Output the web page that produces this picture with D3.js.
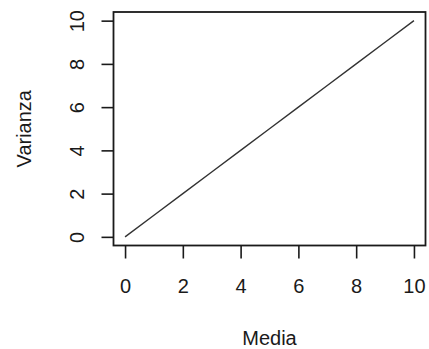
<!DOCTYPE html>
<html>
<head>
<meta charset="utf-8">
<script src="https://cdn.jsdelivr.net/npm/d3@7"></script>
<style>
  html, body { margin: 0; padding: 0; background: #fff; }
  svg { display: block; }
  text { font-family: "Liberation Sans", Arial, sans-serif; fill: #1a1a1a; }
</style>
</head>
<body>
<svg id="chart" width="429" height="349"></svg>
<script>
// Mean vs variance values
const media = [0, 1, 2, 3, 4, 5, 6, 7, 8, 9, 10];
const varianza = [0, 1, 2, 3, 4, 5, 6, 7, 8, 9, 10];
const xTicks = [0, 2, 4, 6, 8, 10];
const yTicks = [0, 2, 4, 6, 8, 10];
const xLabel = "Media";
const yLabel = "Varianza";

const svg = d3.select("#chart");
const box = { left: 113.5, right: 425.5, top: 12, bottom: 245.5 };

// 4% padding on each side of the data range
const pad = 0.04 * 10;
const x = d3.scaleLinear().domain([0 - pad, 10 + pad]).range([box.left, box.right]);
const y = d3.scaleLinear().domain([0 - pad, 10 + pad]).range([box.bottom, box.top]);

// x axis
const xAxis = svg.append("g")
  .attr("transform", `translate(0,${box.bottom})`)
  .call(d3.axisBottom(x).tickValues(xTicks).tickSize(13).tickPadding(20).tickFormat(d3.format("d")));
xAxis.select(".domain").remove();
xAxis.selectAll("line").attr("stroke", "#1a1a1a").attr("stroke-width", 1.6);
xAxis.selectAll("text").attr("font-size", 20).attr("fill", "#1a1a1a")
  .attr("font-family", "Liberation Sans, Arial, sans-serif");

// y axis with rotated tick labels
const yAxis = svg.append("g")
  .attr("transform", `translate(${box.left},0)`)
  .call(d3.axisLeft(y).tickValues(yTicks).tickSize(12).tickFormat(d3.format("d")));
yAxis.select(".domain").remove();
yAxis.selectAll("line").attr("stroke", "#1a1a1a").attr("stroke-width", 1.6);
yAxis.selectAll("text")
  .attr("font-size", 20).attr("fill", "#1a1a1a")
  .attr("font-family", "Liberation Sans, Arial, sans-serif")
  .attr("x", null).attr("dy", null)
  .attr("text-anchor", "middle")
  .attr("transform", d => `translate(${84 - box.left},0) rotate(-90)`);

// data line
svg.append("path")
  .datum(media.map((m, i) => [m, varianza[i]]))
  .attr("fill", "none")
  .attr("stroke", "#333")
  .attr("stroke-width", 1.4)
  .attr("d", d3.line().x(d => x(d[0])).y(d => y(d[1])));

// plot frame
svg.append("rect")
  .attr("x", box.left).attr("y", box.top)
  .attr("width", box.right - box.left).attr("height", box.bottom - box.top)
  .attr("fill", "none").attr("stroke", "#1a1a1a").attr("stroke-width", 1.8);

// axis titles
svg.append("text")
  .attr("x", (box.left + box.right) / 2).attr("y", 345)
  .attr("text-anchor", "middle").attr("font-size", 20)
  .text(xLabel);

svg.append("text")
  .attr("transform", `translate(31,${(box.top + box.bottom) / 2}) rotate(-90)`)
  .attr("text-anchor", "middle").attr("font-size", 20)
  .text(yLabel);
</script>
</body>
</html>
